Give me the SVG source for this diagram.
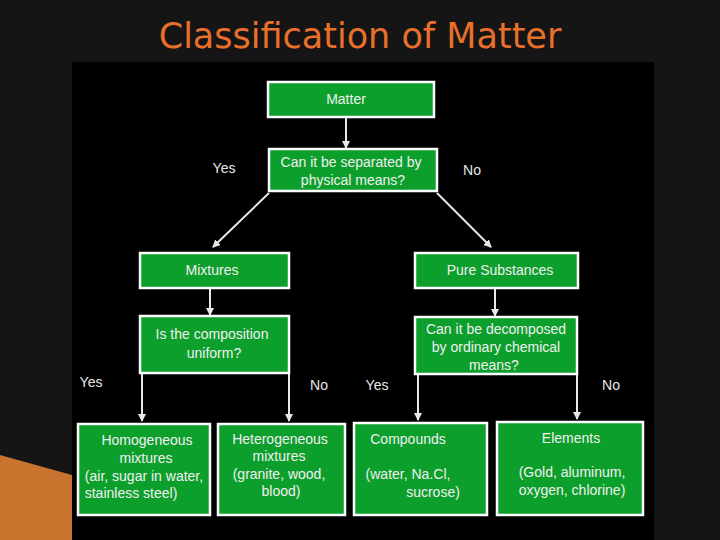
<svg xmlns="http://www.w3.org/2000/svg" width="720" height="540" viewBox="0 0 720 540">
<style>
.b{fill:#0d9f2c;stroke:#fff;stroke-width:2.5}
.t{font-family:"Liberation Sans",Arial,sans-serif;font-size:14px;fill:#f0f0f0;text-anchor:middle}
.l{font-family:"Liberation Sans",Arial,sans-serif;font-size:14px;fill:#e8e8e8;text-anchor:middle}
.c{stroke:#e8e8e8;stroke-width:2;fill:none;marker-end:url(#a)}
</style>
<defs><marker id="a" markerWidth="8" markerHeight="8" refX="7" refY="4" orient="auto" markerUnits="userSpaceOnUse"><path d="M0,0 L8,4 L0,8 z" fill="#e8e8e8"/></marker></defs>
<rect width="720" height="540" fill="#151515"/>
<polygon points="0,455 72,475 72,540 0,540" fill="#c8742e"/>
<rect x="72" y="62" width="582" height="478" fill="#000"/>
<text x="360" y="48" font-family="'DejaVu Sans',sans-serif" font-size="35" fill="#e8702a" text-anchor="middle">Classification of Matter</text>
<g id="connectors">
<line class="c" x1="346" y1="118" x2="346" y2="148"/>
<line class="c" x1="269" y1="193" x2="213" y2="247"/>
<line class="c" x1="437" y1="193" x2="491" y2="247"/>
<line class="c" x1="210" y1="289" x2="210" y2="315"/>
<line class="c" x1="495" y1="289" x2="495" y2="316"/>
<line class="c" x1="142" y1="374" x2="142" y2="421"/>
<line class="c" x1="289" y1="374" x2="289" y2="421"/>
<line class="c" x1="418" y1="375" x2="418" y2="420"/>
<line class="c" x1="577" y1="375" x2="577" y2="419"/>
</g>
<g id="labels">
<text class="l" x="224" y="173">Yes</text>
<text class="l" x="472" y="175">No</text>
<text class="l" x="91" y="387">Yes</text>
<text class="l" x="319" y="390">No</text>
<text class="l" x="377" y="390">Yes</text>
<text class="l" x="611" y="390">No</text>
</g>
<g id="matter"><rect class="b" x="268" y="82" width="166" height="35"/><text class="t" x="346" y="104">Matter</text></g>
<g id="q1"><rect class="b" x="269" y="149" width="168" height="42"/><text class="t" x="351" y="167">Can it be separated by</text><text class="t" x="353" y="185">physical means?</text></g>
<g id="mixtures"><rect class="b" x="140" y="253" width="149" height="35"/><text class="t" x="212" y="275">Mixtures</text></g>
<g id="pure"><rect class="b" x="415" y="253" width="163" height="35"/><text class="t" x="500" y="275">Pure Substances</text></g>
<g id="q2"><rect class="b" x="140" y="316" width="149" height="57"/><text class="t" x="212" y="339">Is the composition</text><text class="t" x="214" y="358">uniform?</text></g>
<g id="q3"><rect class="b" x="415" y="317" width="162" height="57"/><text class="t" x="496" y="334">Can it be decomposed</text><text class="t" x="496" y="352">by ordinary chemical</text><text class="t" x="494" y="370">means?</text></g>
<g id="homogeneous"><rect class="b" x="78" y="424" width="132" height="91"/><text class="t" x="147" y="445">Homogeneous</text><text class="t" x="146" y="463">mixtures</text><text class="t" x="144" y="481">(air, sugar in water,</text><text class="t" x="131" y="498">stainless steel)</text></g>
<g id="heterogeneous"><rect class="b" x="218" y="424" width="127" height="91"/><text class="t" x="280" y="444">Heterogeneous</text><text class="t" x="279" y="461">mixtures</text><text class="t" x="279" y="479">(granite, wood,</text><text class="t" x="281" y="496">blood)</text></g>
<g id="compounds"><rect class="b" x="354" y="423" width="133" height="92"/><text class="t" x="408" y="444">Compounds</text><text class="t" x="408" y="479">(water, Na.Cl,</text><text class="t" x="433" y="497">sucrose)</text></g>
<g id="elements"><rect class="b" x="497" y="422" width="146" height="93"/><text class="t" x="571" y="443">Elements</text><text class="t" x="572" y="477">(Gold, aluminum,</text><text class="t" x="572" y="495">oxygen, chlorine)</text></g>
</svg>
